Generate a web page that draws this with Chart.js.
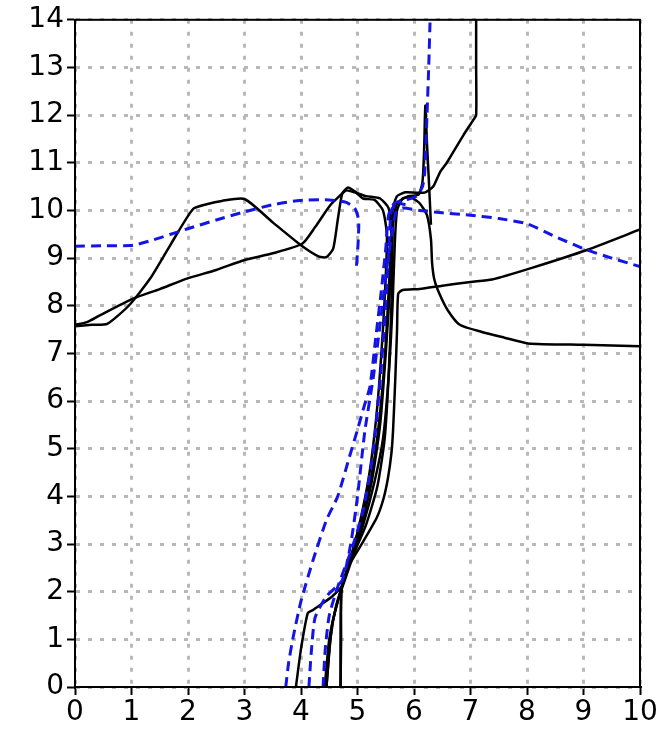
<!DOCTYPE html>
<html>
<head>
<meta charset="utf-8">
<script src="https://cdn.jsdelivr.net/npm/chart.js@4"></script>
<style>
  html, body { margin: 0; padding: 0; background: #fff; }
  canvas { display: block; }
</style>
</head>
<body>
<canvas id="profileChart" width="663" height="732"></canvas>
<script>
// axis ticks
const xTicks = [0, 1, 2, 3, 4, 5, 6, 7, 8, 9, 10];
const yTicks = [0, 1, 2, 3, 4, 5, 6, 7, 8, 9, 10, 11, 12, 13, 14];

// black solid profiles, [x, y]
const blackA = [[3.91,0],[4.0,0.8],[4.12,1.55],[4.22,1.62],[4.34,1.72],[4.55,1.9],[4.73,2.13],[4.9,2.8],[5.05,3.5],[5.2,4.4],[5.3,5.3],[5.38,6.3],[5.45,7.5],[5.5,8.6],[5.52,9.5],[5.45,10.0],[5.3,10.22],[5.1,10.25],[4.95,10.4],[4.83,10.48],[4.73,10.35],[4.65,9.8],[4.57,9.2],[4.45,9.02],[4.32,9.03],[4.0,9.27],[3.5,9.75],[3.0,10.24],[2.6,10.2],[2.33,10.13],[2.09,10.03],[1.7,9.3],[1.33,8.57],[0.95,8.0],[0.57,7.62],[0.3,7.6],[0,7.57]];
const blackB = [[4.45,0],[4.52,1.0],[4.62,1.7],[4.75,2.2],[4.95,3.0],[5.15,3.9],[5.3,4.8],[5.42,6.0],[5.5,7.2],[5.56,8.5],[5.6,9.5],[5.55,10.05],[5.4,10.25],[5.15,10.3],[4.95,10.38],[4.8,10.42],[4.68,10.3],[4.51,10.1],[4.25,9.65],[4.02,9.3],[3.5,9.1],[3.0,8.96],[2.5,8.75],[1.98,8.57],[1.5,8.35],[1.03,8.15],[0.44,7.8],[0.2,7.65],[0,7.6]];
const blackC = [[4.7,0],[4.71,1.0],[4.72,2.09],[4.87,2.59],[5.1,3.05],[5.34,3.55],[5.46,3.95],[5.54,4.39],[5.6,4.9],[5.63,5.4],[5.67,6.5],[5.7,7.5],[5.72,8.25],[5.8,8.33],[6.1,8.35],[6.5,8.42],[7.0,8.5],[7.38,8.55],[8.1,8.8],[9.06,9.17],[10,9.6]];
const blackD = [[4.42,0],[4.5,1.0],[4.65,1.8],[4.85,2.5],[5.1,3.4],[5.3,4.3],[5.45,5.2],[5.55,6.5],[5.62,8.0],[5.66,9.3],[5.7,10.0],[5.8,10.25],[5.95,10.27],[6.1,10.15],[6.23,9.9],[6.3,9.4],[6.32,8.9],[6.36,8.55],[6.45,8.25],[6.6,7.9],[6.81,7.6],[7.2,7.45],[7.6,7.33],[8.02,7.21],[9,7.18],[10,7.15]];
const blackF = [[4.7,0],[4.72,2.09],[4.9,2.7],[5.15,3.4],[5.35,4.2],[5.48,5.2],[5.55,6.5],[5.6,8.0],[5.62,9.3],[5.62,10.0],[5.7,10.3],[5.85,10.38],[6.05,10.37],[6.2,10.38],[6.34,10.5],[6.46,10.8],[6.58,11.0],[6.87,11.57],[7.05,11.9],[7.1,12.0],[7.1,13],[7.1,14.2]];
const blackG = [[4.45,0],[4.55,1.3],[4.75,2.2],[5.0,3.1],[5.25,4.3],[5.4,5.5],[5.5,7.0],[5.58,8.5],[5.62,9.6],[5.7,10.15],[5.9,10.3],[6.08,10.33],[6.15,10.6],[6.18,11.3],[6.2,12.2],[6.23,11.4],[6.26,10.7],[6.28,10.2],[6.3,9.7]];

// blue dashed profiles
const blueE1 = [[0,9.25],[0.5,9.26],[1.03,9.27],[1.38,9.38],[1.98,9.61],[2.5,9.8],[3.0,9.97],[3.5,10.12],[3.98,10.21],[4.5,10.22],[4.8,10.17],[4.95,10.05],[5.02,9.8],[5.01,9.3],[4.98,8.8]];
const blueE2 = [[4.14,0],[4.18,0.7],[4.25,1.46],[4.45,1.9],[4.73,2.24],[4.88,3.0],[5.0,4.0],[5.13,5.37],[5.28,6.5],[5.42,7.8],[5.52,8.8],[5.62,9.6],[5.68,9.95],[5.8,10.05],[6.1,10.0],[6.5,9.95],[7.0,9.9],[7.5,9.83],[8.0,9.72],[8.5,9.45],[9.06,9.17],[9.5,9.0],[10,8.82]];
const blueE3 = [[3.73,0],[3.78,0.5],[3.86,1.04],[4.0,1.8],[4.21,2.65],[4.45,3.5],[4.65,4.0],[4.85,4.8],[5.0,5.4],[5.12,5.9],[5.22,6.3],[5.32,7.3],[5.42,8.3],[5.5,9.2],[5.55,9.9],[5.65,10.15],[5.85,10.22],[6.05,10.3],[6.15,10.5],[6.19,10.8],[6.23,12.0],[6.26,13],[6.29,14.2]];
const blueE4 = [[4.39,0],[4.43,0.8],[4.5,1.5],[4.65,2.1],[4.9,2.9],[5.1,3.7],[5.25,4.7],[5.32,5.4],[5.42,6.7],[5.5,8.0],[5.56,9.3],[5.6,10.0],[5.7,10.15],[5.85,10.12]];

const blackSeries = [blackA, blackB, blackC, blackD, blackF, blackG];
const blueSeries = [blueE1, blueE2, blueE3, blueE4];

const BLUE = '#1414e6';

function toPoints(arr) {
  return arr.map(p => ({ x: p[0], y: p[1] }));
}

const datasets = [];
blueSeries.forEach(s => datasets.push({
  data: toPoints(s),
  showLine: true,
  borderColor: BLUE,
  borderWidth: 3,
  borderDash: [10, 6],
  pointRadius: 0,
  tension: 0.2,
  fill: false
}));
blackSeries.forEach(s => datasets.push({
  data: toPoints(s),
  showLine: true,
  borderColor: '#000',
  borderWidth: 2.5,
  pointRadius: 0,
  tension: 0.2,
  fill: false
}));

// white background + black frame round the plot
const framePlugin = {
  id: 'frame',
  beforeDraw(chart) {
    const c = chart.ctx;
    c.save();
    c.fillStyle = '#fff';
    c.fillRect(0, 0, chart.width, chart.height);
    c.restore();
  },
  afterDraw(chart) {
    const a = chart.chartArea;
    const c = chart.ctx;
    c.save();
    c.strokeStyle = '#000';
    c.lineWidth = 2;
    c.strokeRect(a.left, a.top, a.right - a.left, a.bottom - a.top);
    c.restore();
  }
};

const tickFont = { family: 'DejaVu Sans', size: 28 };
const gridOpts = {
  color: '#b8b8b8',
  lineWidth: 3,
  tickLength: 8,
  tickColor: '#000',
  tickWidth: 2
};

new Chart(document.getElementById('profileChart').getContext('2d'), {
  type: 'scatter',
  data: { datasets: datasets },
  options: {
    responsive: false,
    animation: false,
    events: [],
    layout: { padding: { top: 17, right: 23, left: 0, bottom: 0 } },
    plugins: { legend: { display: false }, tooltip: { enabled: false } },
    scales: {
      x: {
        type: 'linear',
        min: 0,
        max: 10,
        afterBuildTicks: s => { s.ticks = xTicks.map(v => ({ value: v })); },
        afterFit: s => { s.height = 45; },
        ticks: { color: '#000', font: tickFont, padding: 1, maxRotation: 0 },
        grid: gridOpts,
        border: { display: true, color: '#000', width: 2, dash: [4, 8] }
      },
      y: {
        type: 'linear',
        min: 0,
        max: 14,
        afterBuildTicks: s => { s.ticks = yTicks.map(v => ({ value: v })); },
        afterFit: s => { s.width = 75; },
        ticks: { color: '#000', font: tickFont, padding: 3 },
        grid: gridOpts,
        border: { display: true, color: '#000', width: 2, dash: [4, 8] }
      }
    }
  },
  plugins: [framePlugin]
});
</script>
</body>
</html>
